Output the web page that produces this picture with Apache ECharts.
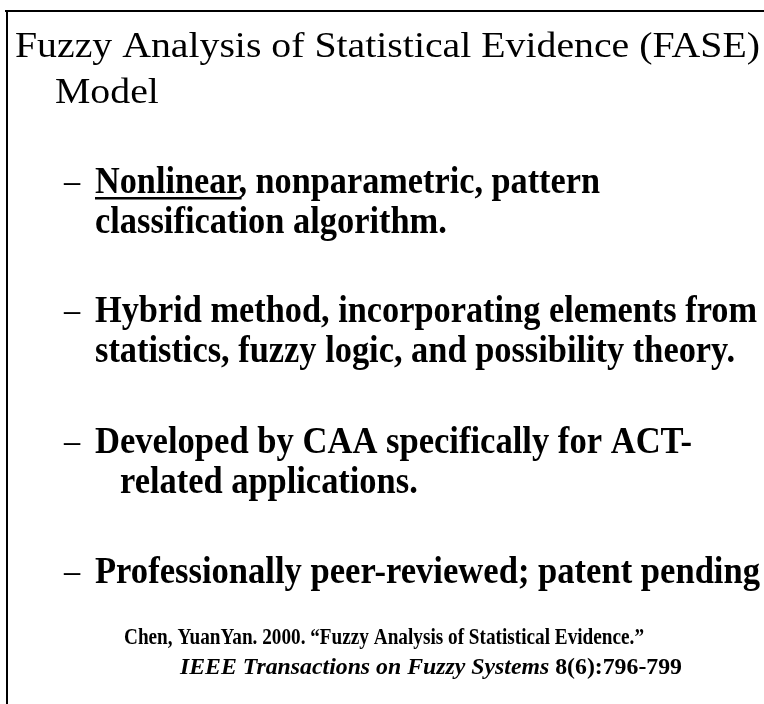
<!DOCTYPE html>
<html>
<head>
<meta charset="utf-8">
<script src="https://cdn.jsdelivr.net/npm/echarts@6/dist/echarts.min.js"></script>
<style>
html,body{margin:0;padding:0;background:#fff;}
#chart{width:764px;height:704px;}
</style>
</head>
<body>
<div id="chart"></div>
<script>
// Slide content
const titleLines = ["Fuzzy Analysis of Statistical Evidence (FASE)", "Model"];
const bulletLines = [
  "Nonlinear, nonparametric, pattern",
  "classification algorithm.",
  "Hybrid method, incorporating elements from",
  "statistics, fuzzy logic, and possibility theory.",
  "Developed by CAA specifically for ACT-",
  "related applications.",
  "Professionally peer-reviewed; patent pending"
];
const bulletStarts = [true, false, true, false, true, false, true];
const underlinedWord = "Nonlinear";
const citation1 = "Chen, YuanYan. 2000. \u201cFuzzy Analysis of Statistical Evidence.\u201d";
const citation2Italic = "IEEE Transactions on Fuzzy Systems";
const citation2Plain = " 8(6):796-799";

// layout (pixels); w = measured width in the reference, null = use common scale
const titleLayout = [
  {x: 15, base: 58, w: 745},
  {x: 55, base: 104, w: null}
];
const bulletLayout = [
  {x: 95, base: 194, w: 505},
  {x: 95, base: 234, w: null},
  {x: 95, base: 323, w: 662},
  {x: 95, base: 363, w: 640},
  {x: 95, base: 454, w: 597},
  {x: 120, base: 494, w: null},
  {x: 95, base: 584, w: 665}
];
const SERIF = '"Liberation Serif","Times New Roman",serif';
const titleSize = 36, bulletSize = 38, citeSize = 23;
const DESC = 0.22;

const cv = document.createElement('canvas').getContext('2d');
function measure(text, font){ cv.font = font; return cv.measureText(text).width; }

const chart = echarts.init(document.getElementById('chart'), null, {renderer:'canvas'});
const g = [];

// frame lines
g.push({type:'line', shape:{x1:5, y1:11, x2:764, y2:11}, style:{stroke:'#000', lineWidth:2}});
g.push({type:'line', shape:{x1:7, y1:10, x2:7, y2:704}, style:{stroke:'#000', lineWidth:2}});

function textEl(text, x, base, size, weight, style, sx){
  const font = `${style} ${weight} ${size}px ${SERIF}`;
  return {
    type:'text', x:x, y:base + size * DESC, scaleX:sx, originX:0, originY:0,
    style:{text:text, font:font, fill:'#000', verticalAlign:'bottom'}
  };
}

// Title
const titleFont = `normal normal ${titleSize}px ${SERIF}`;
const titleSx = titleLayout[0].w / measure(titleLines[0], titleFont);
titleLines.forEach((t,i)=>{
  const L = titleLayout[i];
  g.push(textEl(t, L.x, L.base, titleSize, 'normal', 'normal', titleSx));
});

// Bullets
const bulletFont = `normal bold ${bulletSize}px ${SERIF}`;
const fits = bulletLayout.map((L,i)=> L.w ? L.w / measure(bulletLines[i], bulletFont) : null);
const known = fits.filter(v=>v!==null);
const commonSx = known.reduce((a,b)=>a+b,0) / known.length;
bulletLines.forEach((t,i)=>{
  const L = bulletLayout[i];
  const sx = fits[i] !== null ? fits[i] : commonSx;
  g.push(textEl(t, L.x, L.base, bulletSize, 'bold', 'normal', sx));
  if (bulletStarts[i]) {
    g.push({type:'text', x:64, y:L.base + bulletSize * DESC, scaleX:0.85,
      style:{text:'\u2013', font:`normal normal ${bulletSize}px ${SERIF}`, fill:'#000', verticalAlign:'bottom'}});
  }
  if (i === 0) {
    const uw = measure(underlinedWord, bulletFont) * sx;
    g.push({type:'rect', shape:{x:L.x, y:L.base + 3, width:uw, height:2.5}, style:{fill:'#000'}});
  }
});

// Citation
const citeFontB = `normal bold ${citeSize}px ${SERIF}`;
const citeFontBI = `italic bold ${citeSize}px ${SERIF}`;
const c1w = measure(citation1, citeFontB);
g.push({type:'text', x:124, y:645 + citeSize * DESC, scaleX: 520 / c1w,
  style:{text:citation1, font:citeFontB, fill:'#000', verticalAlign:'bottom'}});
const c2w = measure(citation2Italic, citeFontBI) + measure(citation2Plain, citeFontB);
g.push({type:'text', x:180, y:675 + citeSize * DESC, scaleX: 502 / c2w,
  style:{text:'{i|' + citation2Italic + '}{b|' + citation2Plain + '}', fill:'#000', verticalAlign:'bottom',
    rich:{
      i:{fontFamily:SERIF, fontSize:citeSize, fontStyle:'italic', fontWeight:'bold', fill:'#000'},
      b:{fontFamily:SERIF, fontSize:citeSize, fontWeight:'bold', fill:'#000'}
    }}});

chart.setOption({
  backgroundColor:'#fff',
  animation:false,
  graphic:{elements:g}
});
</script>
</body>
</html>
